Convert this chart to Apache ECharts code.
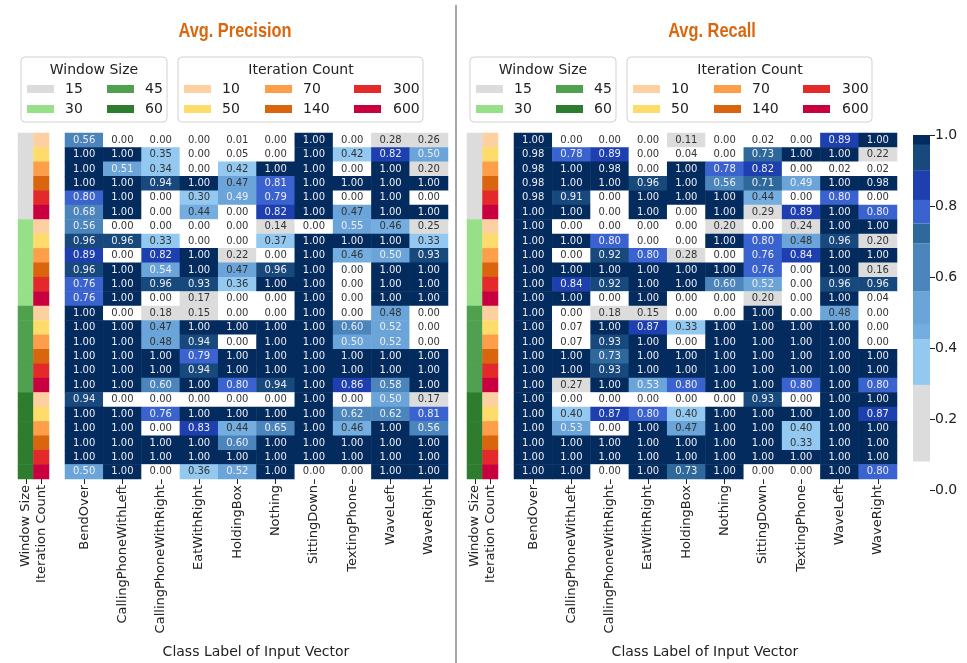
<!DOCTYPE html>
<html>
<head>
<meta charset="utf-8">
<script src="https://cdn.jsdelivr.net/npm/echarts/dist/echarts.min.js"></script>
<style>
  html, body { margin: 0; padding: 0; background: #ffffff; }
  #chart { width: 967px; height: 663px; }
</style>
</head>
<body>
<div id="chart"></div>
<script>
// Activity classes (columns of both heatmaps)
const classLabels = ['BendOver', 'CallingPhoneWithLeft', 'CallingPhoneWithRight', 'EatWithRight',
  'HoldingBox', 'Nothing', 'SittingDown', 'TextingPhone', 'WaveLeft', 'WaveRight'];
// Side annotation strips
const stripLabels = ['Window Size', 'Iteration Count'];
const windowSizes = [15, 30, 45, 60];
const iterationCounts = [10, 50, 70, 140, 300, 600];
const windowColors = ['#dcdcdc', '#98df8a', '#4fa14f', '#2e7d2e'];
const iterationColors = ['#fdd0a2', '#fedc6b', '#fd9f4a', '#d9660f', '#e4292a', '#c9003f'];

// Avg. precision, one row per (window size, iteration count) configuration
const precision = [
  [0.56, 0.00, 0.00, 0.00, 0.01, 0.00, 1.00, 0.00, 0.28, 0.26],
  [1.00, 1.00, 0.35, 0.00, 0.05, 0.00, 1.00, 0.42, 0.82, 0.50],
  [1.00, 0.51, 0.34, 0.00, 0.42, 1.00, 1.00, 0.00, 1.00, 0.20],
  [1.00, 1.00, 0.94, 1.00, 0.47, 0.81, 1.00, 1.00, 1.00, 1.00],
  [0.80, 1.00, 0.00, 0.30, 0.49, 0.79, 1.00, 0.00, 1.00, 0.00],
  [0.68, 1.00, 0.00, 0.44, 0.00, 0.82, 1.00, 0.47, 1.00, 1.00],
  [0.56, 0.00, 0.00, 0.00, 0.00, 0.14, 0.00, 0.55, 0.46, 0.25],
  [0.96, 0.96, 0.33, 0.00, 0.00, 0.37, 1.00, 1.00, 1.00, 0.33],
  [0.89, 0.00, 0.82, 1.00, 0.22, 0.00, 1.00, 0.46, 0.50, 0.93],
  [0.96, 1.00, 0.54, 1.00, 0.47, 0.96, 1.00, 0.00, 1.00, 1.00],
  [0.76, 1.00, 0.96, 0.93, 0.36, 1.00, 1.00, 0.00, 1.00, 1.00],
  [0.76, 1.00, 0.00, 0.17, 0.00, 0.00, 1.00, 0.00, 1.00, 1.00],
  [1.00, 0.00, 0.18, 0.15, 0.00, 0.00, 1.00, 0.00, 0.48, 0.00],
  [1.00, 1.00, 0.47, 1.00, 1.00, 1.00, 1.00, 0.60, 0.52, 0.00],
  [1.00, 1.00, 0.48, 0.94, 0.00, 1.00, 1.00, 0.50, 0.52, 0.00],
  [1.00, 1.00, 1.00, 0.79, 1.00, 1.00, 1.00, 1.00, 1.00, 1.00],
  [1.00, 1.00, 1.00, 0.94, 1.00, 1.00, 1.00, 1.00, 1.00, 1.00],
  [1.00, 1.00, 0.60, 1.00, 0.80, 0.94, 1.00, 0.86, 0.58, 1.00],
  [0.94, 0.00, 0.00, 0.00, 0.00, 0.00, 1.00, 0.00, 0.50, 0.17],
  [1.00, 1.00, 0.76, 1.00, 1.00, 1.00, 1.00, 0.62, 0.62, 0.81],
  [1.00, 1.00, 0.00, 0.83, 0.44, 0.65, 1.00, 0.46, 1.00, 0.56],
  [1.00, 1.00, 1.00, 1.00, 0.60, 1.00, 1.00, 1.00, 1.00, 1.00],
  [1.00, 1.00, 1.00, 1.00, 1.00, 1.00, 1.00, 1.00, 1.00, 1.00],
  [0.50, 1.00, 0.00, 0.36, 0.52, 1.00, 0.00, 0.00, 1.00, 1.00]
];

// Avg. recall, same row order
const recall = [
  [1.00, 0.00, 0.00, 0.00, 0.11, 0.00, 0.02, 0.00, 0.89, 1.00],
  [0.98, 0.78, 0.89, 0.00, 0.04, 0.00, 0.73, 1.00, 1.00, 0.22],
  [0.98, 1.00, 0.98, 0.00, 1.00, 0.78, 0.82, 0.00, 0.02, 0.02],
  [0.98, 1.00, 1.00, 0.96, 1.00, 0.56, 0.71, 0.49, 1.00, 0.98],
  [0.98, 0.91, 0.00, 1.00, 1.00, 1.00, 0.44, 0.00, 0.80, 0.00],
  [1.00, 1.00, 0.00, 1.00, 0.00, 1.00, 0.29, 0.89, 1.00, 0.80],
  [1.00, 0.00, 0.00, 0.00, 0.00, 0.20, 0.00, 0.24, 1.00, 1.00],
  [1.00, 1.00, 0.80, 0.00, 0.00, 1.00, 0.80, 0.48, 0.96, 0.20],
  [1.00, 0.00, 0.92, 0.80, 0.28, 0.00, 0.76, 0.84, 1.00, 1.00],
  [1.00, 1.00, 1.00, 1.00, 1.00, 1.00, 0.76, 0.00, 1.00, 0.16],
  [1.00, 0.84, 0.92, 1.00, 1.00, 0.60, 0.52, 0.00, 0.96, 0.96],
  [1.00, 1.00, 0.00, 1.00, 0.00, 0.00, 0.20, 0.00, 1.00, 0.04],
  [1.00, 0.00, 0.18, 0.15, 0.00, 0.00, 1.00, 0.00, 0.48, 0.00],
  [1.00, 0.07, 1.00, 0.87, 0.33, 1.00, 1.00, 1.00, 1.00, 0.00],
  [1.00, 0.07, 0.93, 1.00, 0.00, 1.00, 1.00, 1.00, 1.00, 0.00],
  [1.00, 1.00, 0.73, 1.00, 1.00, 1.00, 1.00, 1.00, 1.00, 1.00],
  [1.00, 1.00, 0.93, 1.00, 1.00, 1.00, 1.00, 1.00, 1.00, 1.00],
  [1.00, 0.27, 1.00, 0.53, 0.80, 1.00, 1.00, 0.80, 1.00, 0.80],
  [1.00, 0.00, 0.00, 0.00, 0.00, 0.00, 0.93, 0.00, 1.00, 1.00],
  [1.00, 0.40, 0.87, 0.80, 0.40, 1.00, 1.00, 1.00, 1.00, 0.87],
  [1.00, 0.53, 0.00, 1.00, 0.47, 1.00, 1.00, 0.40, 1.00, 1.00],
  [1.00, 1.00, 1.00, 1.00, 1.00, 1.00, 1.00, 0.33, 1.00, 1.00],
  [1.00, 1.00, 1.00, 1.00, 1.00, 1.00, 1.00, 1.00, 1.00, 1.00],
  [1.00, 1.00, 0.00, 1.00, 0.73, 1.00, 0.00, 0.00, 1.00, 0.80]
];

// Stepped colour scale shared by both heatmaps and the colour bar
const levelBounds = [0, 0.08, 0.296, 0.424, 0.465, 0.559, 0.695, 0.751, 0.817, 0.901, 0.972, 1.0];
const levelColors = ['#ffffff', '#dcdcdc', '#93c9f1', '#74addf', '#6aa4d8', '#4b85bb',
  '#2f689b', '#3a63cf', '#1d3faf', '#18497d', '#032b5e'];
const colorbarTicks = [0, 0.2, 0.4, 0.6, 0.8, 1.0];

const FONT = 'DejaVu Sans';
const TEXT_DARK = '#222222';

const rowIds = precision.map((_, i) => String(i));

function heatData(mat) {
  const out = [];
  mat.forEach((row, r) => row.forEach((v, c) => {
    out.push({ value: [c, r, v], label: { color: v >= 0.485 ? '#ececf4' : '#333333' } });
  }));
  return out;
}

function stripData(col, getter) {
  return rowIds.map((_, r) => [col, r, getter(r)]);
}
const windowOfRow = r => windowSizes[Math.floor(r / iterationCounts.length)];
const iterOfRow = r => iterationCounts[r % iterationCounts.length];

const panels = [
  { dx: 0, title: 'Avg. Precision', titleX: 235, mat: precision },
  { dx: 449, title: 'Avg. Recall', titleX: 712, mat: recall }
];

const grids = [], xAxes = [], yAxes = [], series = [], graphics = [];

const catXAxis = (gridIndex, data) => ({
  type: 'category', gridIndex, data,
  axisLine: { show: false },
  axisTick: { show: true, alignWithLabel: true, length: 5, lineStyle: { color: TEXT_DARK, width: 1 } },
  axisLabel: { rotate: 90, interval: 0, fontSize: 13, color: TEXT_DARK, fontFamily: FONT, margin: 6 },
  splitLine: { show: false }
});
const rowYAxis = gridIndex => ({ type: 'category', gridIndex, data: rowIds, inverse: true, show: false });

const heatSeriesIdx = [], windowSeriesIdx = [], iterSeriesIdx = [];

panels.forEach((p, k) => {
  const gStrip = grids.length;
  grids.push({ left: 18 + p.dx, top: 133, width: 31, height: 346, outerBoundsMode: 'none' });
  const gHeat = grids.length;
  grids.push({ left: 65 + p.dx, top: 133, width: 383, height: 346, outerBoundsMode: 'none' });
  xAxes.push(catXAxis(gStrip, stripLabels));
  xAxes.push(catXAxis(gHeat, classLabels));
  yAxes.push(rowYAxis(gStrip));
  yAxes.push(rowYAxis(gHeat));

  heatSeriesIdx.push(series.length);
  series.push({
    type: 'heatmap', name: p.title, xAxisIndex: gHeat, yAxisIndex: gHeat,
    data: heatData(p.mat),
    label: { show: true, fontSize: 10, fontFamily: FONT, formatter: prm => prm.value[2].toFixed(2) },
    itemStyle: { borderWidth: 0 },
    emphasis: { disabled: true }, silent: true
  });
  windowSeriesIdx.push(series.length);
  series.push({
    type: 'heatmap', xAxisIndex: gStrip, yAxisIndex: gStrip,
    data: stripData(0, windowOfRow), emphasis: { disabled: true }, silent: true
  });
  iterSeriesIdx.push(series.length);
  series.push({
    type: 'heatmap', xAxisIndex: gStrip, yAxisIndex: gStrip,
    data: stripData(1, iterOfRow), emphasis: { disabled: true }, silent: true
  });

  // Panel title in a narrow bold face
  graphics.push({
    type: 'text', x: p.titleX, y: 31, scaleX: 0.78,
    style: { text: p.title, fill: '#d9670f', font: 'bold 21px "Liberation Sans", sans-serif',
      align: 'center', verticalAlign: 'middle' }
  });

  // Window Size legend
  graphics.push({ type: 'rect', shape: { x: 21 + p.dx, y: 57, width: 146, height: 65, r: 4 },
    style: { fill: '#ffffff', stroke: '#d2d2d2', lineWidth: 1 } });
  graphics.push({ type: 'text', x: 94 + p.dx, y: 70,
    style: { text: 'Window Size', fill: TEXT_DARK, font: '14px "DejaVu Sans"', align: 'center', verticalAlign: 'middle' } });
  windowSizes.forEach((w, i) => {
    const col = Math.floor(i / 2), row = i % 2;
    const sy = [89, 109][row];
    graphics.push({ type: 'rect', shape: { x: [27, 107][col] + p.dx, y: sy - 4, width: 27, height: 8 },
      style: { fill: windowColors[i] } });
    graphics.push({ type: 'text', x: [65, 145][col] + p.dx, y: sy,
      style: { text: String(w), fill: TEXT_DARK, font: '14px "DejaVu Sans"', align: 'left', verticalAlign: 'middle' } });
  });

  // Iteration Count legend
  graphics.push({ type: 'rect', shape: { x: 178 + p.dx, y: 57, width: 245, height: 65, r: 4 },
    style: { fill: '#ffffff', stroke: '#d2d2d2', lineWidth: 1 } });
  graphics.push({ type: 'text', x: 301 + p.dx, y: 70,
    style: { text: 'Iteration Count', fill: TEXT_DARK, font: '14px "DejaVu Sans"', align: 'center', verticalAlign: 'middle' } });
  iterationCounts.forEach((n, i) => {
    const col = Math.floor(i / 2), row = i % 2;
    const sy = [89, 109][row];
    graphics.push({ type: 'rect', shape: { x: [184, 265, 354][col] + p.dx, y: sy - 4, width: 27, height: 8 },
      style: { fill: iterationColors[i] } });
    graphics.push({ type: 'text', x: [222, 303, 393][col] + p.dx, y: sy,
      style: { text: String(n), fill: TEXT_DARK, font: '14px "DejaVu Sans"', align: 'left', verticalAlign: 'middle' } });
  });

  // X axis title
  graphics.push({ type: 'text', x: 256 + p.dx, y: 652,
    style: { text: 'Class Label of Input Vector', fill: TEXT_DARK, font: '14px "DejaVu Sans"', align: 'center', verticalAlign: 'middle' } });
});

// Divider between the two panels
graphics.push({ type: 'line', shape: { x1: 456, y1: 5, x2: 456, y2: 663 }, style: { stroke: '#8a8a8a', lineWidth: 1.5 } });

// Colour bar: stacked segments on a 0–1 value axis
const gBar = grids.length;
grids.push({ left: 913, top: 135, width: 17, height: 355, outerBoundsMode: 'none' });
xAxes.push({ type: 'category', gridIndex: gBar, data: [''], show: false });
yAxes.push({
  type: 'value', gridIndex: gBar, min: 0, max: 1, interval: 0.2, position: 'right',
  axisLine: { show: false },
  axisTick: { show: true, length: 5, lineStyle: { color: TEXT_DARK, width: 1 } },
  axisLabel: { fontSize: 14, color: TEXT_DARK, fontFamily: FONT, margin: 5,
    formatter: v => (colorbarTicks.some(t => Math.abs(t - v) < 1e-9) ? v.toFixed(1) : '') },
  splitLine: { show: false }
});
levelColors.forEach((c, i) => {
  series.push({
    type: 'bar', stack: 'colorbar', xAxisIndex: gBar, yAxisIndex: gBar,
    data: [levelBounds[i + 1] - levelBounds[i]], barWidth: '100%',
    itemStyle: { color: c }, silent: true, emphasis: { disabled: true }
  });
});

const valuePieces = levelColors.map((c, i) => {
  const piece = { gte: levelBounds[i], color: c };
  if (i === levelColors.length - 1) piece.lte = levelBounds[i + 1]; else piece.lt = levelBounds[i + 1];
  return piece;
});

const option = {
  animation: false,
  backgroundColor: '#ffffff',
  textStyle: { fontFamily: FONT },
  grid: grids,
  xAxis: xAxes,
  yAxis: yAxes,
  visualMap: [
    { type: 'piecewise', show: false, dimension: 2, seriesIndex: heatSeriesIdx, pieces: valuePieces },
    { type: 'piecewise', show: false, dimension: 2, seriesIndex: windowSeriesIdx,
      pieces: windowSizes.map((w, i) => ({ value: w, color: windowColors[i] })) },
    { type: 'piecewise', show: false, dimension: 2, seriesIndex: iterSeriesIdx,
      pieces: iterationCounts.map((n, i) => ({ value: n, color: iterationColors[i] })) }
  ],
  series,
  graphic: { elements: graphics }
};

const chart = echarts.init(document.getElementById('chart'), null, { renderer: 'canvas' });
chart.setOption(option);
</script>
</body>
</html>
